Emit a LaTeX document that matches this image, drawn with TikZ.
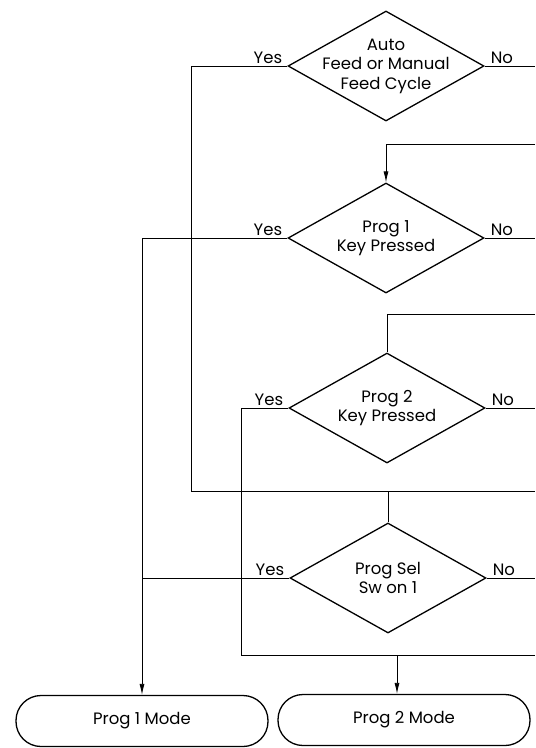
\documentclass[tikz,border=0pt]{standalone}
\usepackage{fontspec}
\setmainfont{Poppins}
\usetikzlibrary{shapes.geometric,arrows.meta}

\begin{document}
\begin{tikzpicture}[x=1pt,y=-1pt,font=\fontsize{16.5}{19.5}\selectfont,
    decision/.style={diamond,draw,line width=1.3pt,aspect=1.8,inner sep=-10pt,
      minimum width=196pt,minimum height=110pt,align=center},
    modebox/.style={draw,line width=1.3pt,rounded corners=25pt,
      minimum width=252pt,minimum height=51pt},
    flow/.style={line width=0.8pt},
    tag/.style={inner sep=1pt}]
  \coordinate (rim) at (535,0);
  % decisions
  \node[decision] (feedcyc) at (386,66) {Auto\\Feed or Manual\\Feed Cycle};
  \node[decision] (progone) at (386,238) {Prog 1\\Key Pressed};
  \node[decision] (progtwo) at (387,408) {Prog 2\\Key Pressed};
  \node[decision] (progsel) at (388,578) {Prog Sel\\Sw on 1};
  % end states
  \node[modebox] (modeone) at (142,721) {Prog 1 Mode};
  \node[modebox] (modetwo) at (404,720) {Prog 2 Mode};
  \foreach \d in {feedcyc,progone,progtwo,progsel}{
    \node[tag,anchor=south east] (\d-yes) at ([xshift=-4pt,yshift=1.5pt]\d.west) {Yes};
    \node[tag,anchor=south west] (\d-no) at ([xshift=5pt,yshift=1.5pt]\d.east) {No};
    \draw[flow] (\d.east) -- (\d.east -| rim);
  }
  % yes branches
  \coordinate (jointop) at (535,491);
  \draw[flow] (feedcyc.west) -| (191,491) -- (jointop);
  \draw[flow] (progsel.north) -- (progsel.north |- jointop);
  \draw[flow,-{Latex[length=11pt,width=5pt]}] (progone.west) -| (modeone.north);
  \draw[flow] (progsel.west) -- (progsel.west -| modeone.north);
  \coordinate (joinlow) at (535,655);
  \coordinate (droptwo) at (397,655);
  \draw[flow] (progtwo.west) -| (241,655) -- (joinlow);
  \draw[flow,-{Latex[length=11pt,width=5pt]}] (droptwo) -- (droptwo |- modetwo.north);
  % loop returns
  \draw[flow,-{Latex[length=11pt,width=5pt]}] (535,144) -| (progone.north);
  \draw[flow] (535,314) -| (progtwo.north);
  \path[use as bounding box] (0,0) rectangle (535,748);
\end{tikzpicture}
\end{document}
